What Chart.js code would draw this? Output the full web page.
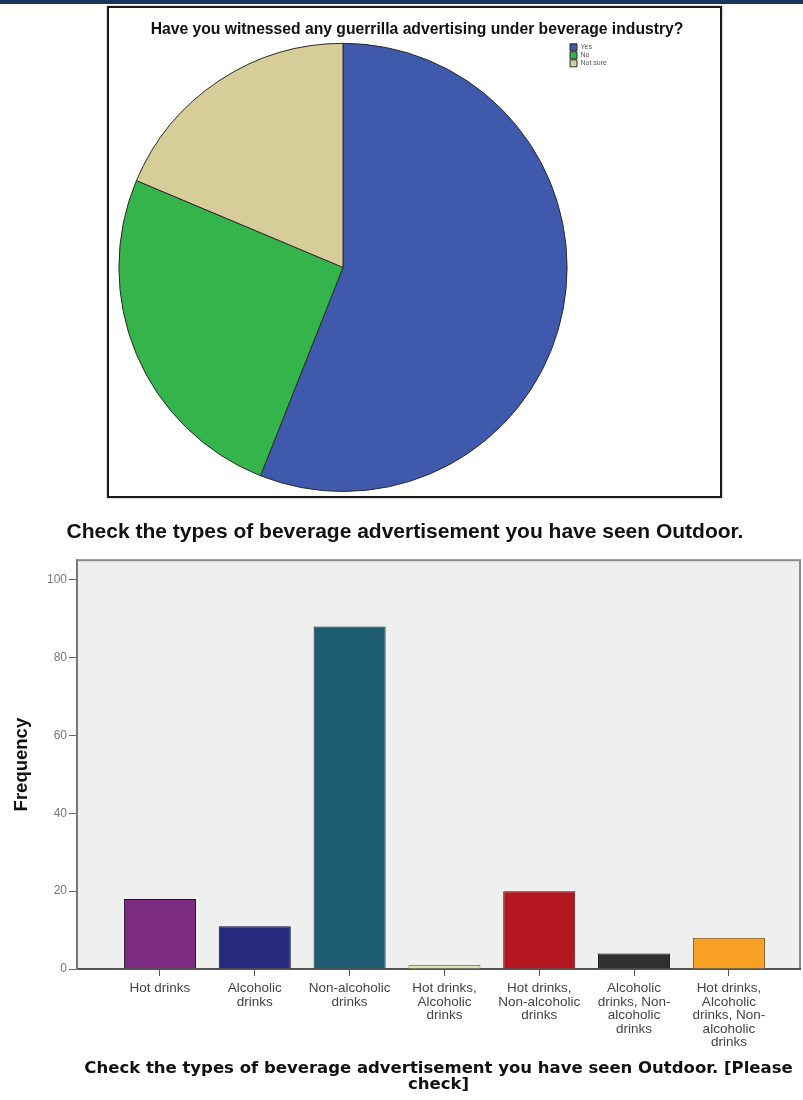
<!DOCTYPE html>
<html lang="en">
<head>
  <meta charset="UTF-8" />
  <title>Guerrilla advertising survey</title>
  <script src="https://cdn.jsdelivr.net/npm/chart.js"></script>
  <style>
    body {
      margin: 0;
      width: 803px;
      height: 1100px;
      position: relative;
      overflow: hidden;
      background: #fff;
    }
    .band {
      position: absolute;
      left: 0;
      top: 0;
      width: 803px;
      height: 4px;
      background: #17365f;
    }
    .pie-box {
      position: absolute;
      left: 107px;
      top: 6px;
      width: 611px;
      height: 488px;
      border: 2px solid #1a1a1a;
      box-shadow: 0 0 2px #999;
      background: #fff;
    }
    canvas { display: block; }
    #bar {
      position: absolute;
      left: 0;
      top: 505px;
    }
  </style>
</head>
<body>
  <div class="band"></div>
  <div class="pie-box"><canvas id="pie" width="611" height="488"></canvas></div>
  <canvas id="bar" width="803" height="595"></canvas>

  <script>
    // pie: Have you witnessed any guerrilla advertising...
    const pieLabels = ["Yes", "No", "Not sure"];
    const pieCounts = [84, 38, 28];
    const pieColors = ["#3f59ac", "#35b44b", "#d6cd98"];

    // bar: types of beverage advertisement seen outdoor
    const barCategories = [
      ["Hot drinks"],
      ["Alcoholic", "drinks"],
      ["Non-alcoholic", "drinks"],
      ["Hot drinks,", "Alcoholic", "drinks"],
      ["Hot drinks,", "Non-alcoholic", "drinks"],
      ["Alcoholic", "drinks, Non-", "alcoholic", "drinks"],
      ["Hot drinks,", "Alcoholic", "drinks, Non-", "alcoholic", "drinks"]
    ];
    const barCounts = [18, 11, 88, 1, 20, 4, 8];
    const barColors = ["#7b2c80", "#262a7c", "#1c5b70", "#e3e0bb", "#b3161f", "#2f2f2f", "#f7a023"];
    const barBorders = ["#2a1030", "#10123a", "#0c2c36", "#8f8f5e", "#4a0a0e", "#111111", "#6a4a10"];
    const yTicks = [0, 20, 40, 60, 80, 100];

    new Chart(document.getElementById("pie"), {
      type: "pie",
      data: {
        labels: pieLabels,
        datasets: [{
          data: pieCounts,
          backgroundColor: pieColors,
          borderColor: "#2a2a2a",
          borderWidth: 1
        }]
      },
      options: {
        responsive: false,
        animation: false,
        layout: { padding: { left: 8, right: 3, top: 0, bottom: 4 } },
        plugins: {
          title: {
            display: true,
            text: "Have you witnessed any guerrilla advertising under beverage industry?",
            color: "#111",
            font: { family: "Liberation Sans", size: 15.7, weight: "bold" },
            padding: { top: 12, bottom: 4 }
          },
          legend: {
            position: "right",
            align: "start",
            fullSize: false,
            labels: {
              boxWidth: 7,
              boxHeight: 7,
              padding: 1,
              color: "#555",
              font: { family: "Liberation Sans", size: 7 }
            }
          },
          tooltip: { enabled: false }
        }
      },
      plugins: [{
        id: "legendWidth",
        beforeInit(chart) {
          const fit = chart.legend.fit;
          chart.legend.fit = function () {
            fit.call(this);
            this.width = 148;
          };
        }
      }]
    });

    const plotBg = {
      id: "plotBg",
      beforeDraw(chart) {
        const { ctx, chartArea: a } = chart;
        ctx.save();
        ctx.fillStyle = "#efefef";
        ctx.fillRect(a.left, a.top, a.right - a.left, a.bottom - a.top);
        ctx.strokeStyle = "#8c8c8c";
        ctx.lineWidth = 2;
        ctx.strokeRect(a.left, a.top, a.right - a.left, a.bottom - a.top);
        ctx.restore();
      }
    };

    new Chart(document.getElementById("bar"), {
      type: "bar",
      data: {
        datasets: [{
          data: barCounts.map((v, i) => ({ x: i, y: v })),
          backgroundColor: barColors,
          borderColor: barBorders,
          borderWidth: 1,
          categoryPercentage: 1,
          barPercentage: 0.76
        }]
      },
      options: {
        responsive: false,
        animation: false,
        layout: { padding: { left: 10, right: 3, top: 0, bottom: 0 } },
        plugins: {
          legend: { display: false },
          tooltip: { enabled: false },
          title: {
            display: true,
            text: "Check the types of beverage advertisement you have seen Outdoor.",
            color: "#111",
            font: { family: "Liberation Sans", size: 21, weight: "bold" },
            padding: { top: 15, bottom: 15 }
          }
        },
        scales: {
          x: {
            type: "linear",
            min: -0.875,
            max: 6.75,
            offset: false,
            afterBuildTicks: s => { s.ticks = barCategories.map((_, i) => ({ value: i })); },
            afterFit: s => { s.height = 131; },
            ticks: {
              callback: v => barCategories[v],
              color: "#444",
              font: { family: "Liberation Sans", size: 13.5, lineHeight: 1.0 },
              padding: 6,
              maxRotation: 0,
              autoSkip: false
            },
            grid: { offset: false, drawOnChartArea: false, tickLength: 7, color: "#555" },
            border: { color: "#555", width: 2 },
            title: {
              display: true,
              text: ["Check the types of beverage advertisement you have seen Outdoor. [Please", "check]"],
              color: "#111",
              font: { family: "DejaVu Sans", size: 16.5, weight: "bold", lineHeight: 0.97 },
              padding: { top: 0, bottom: 7 }
            }
          },
          y: {
            min: 0,
            max: 105,
            afterBuildTicks: s => { s.ticks = yTicks.map(v => ({ value: v })); },
            afterFit: s => { s.width = 67; },
            ticks: { color: "#777", font: { family: "Liberation Sans", size: 12 }, padding: 2 },
            grid: { drawOnChartArea: false, tickLength: 8, color: "#666" },
            border: { color: "#777", width: 2 },
            title: {
              display: true,
              text: "Frequency",
              color: "#111",
              font: { family: "Liberation Sans", size: 18.5, weight: "bold" },
              padding: { top: 1, bottom: 0 }
            }
          }
        }
      },
      plugins: [plotBg]
    });
  </script>
</body>
</html>
